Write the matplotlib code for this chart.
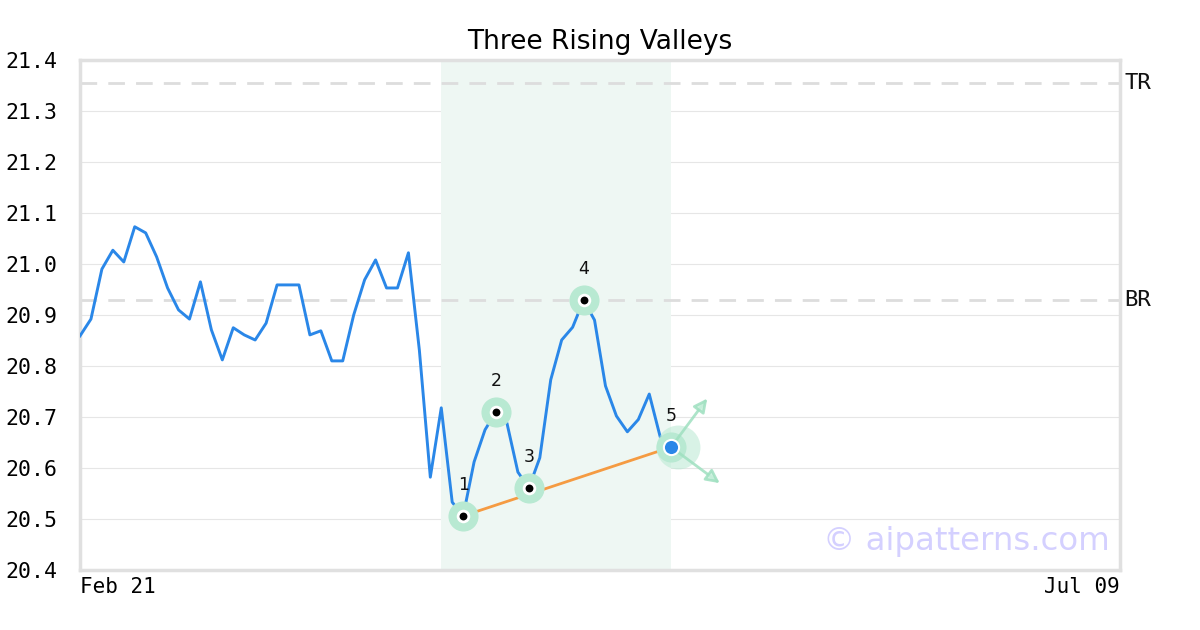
import numpy as np
import matplotlib
matplotlib.use('Agg')
import matplotlib.pyplot as plt
from matplotlib import transforms

# data (trading-day index -> price)
prices = [20.859, 20.892, 20.990, 21.027, 21.004, 21.073, 21.061, 21.014, 20.953, 20.910,
          20.892, 20.965, 20.871, 20.812, 20.875, 20.861, 20.851, 20.884, 20.959, 20.959,
          20.959, 20.861, 20.869, 20.810, 20.810, 20.900, 20.969, 21.008, 20.953, 20.953,
          21.022, 20.831, 20.582, 20.718, 20.533, 20.506, 20.612, 20.675, 20.710, 20.688,
          20.592, 20.561, 20.620, 20.773, 20.851, 20.876, 20.929, 20.890, 20.761, 20.702,
          20.671, 20.695, 20.745, 20.661, 20.641]
pivot_idx = [35, 38, 41, 46, 54]
pivot_labels = ['1', '2', '3', '4', '5']
top_res = 21.355
bot_res = 20.929
shade_start, shade_end = 33, 54
n_days = 95
date_labels = ['Feb 21', 'Jul 09']
y_ticks = [20.4, 20.5, 20.6, 20.7, 20.8, 20.9, 21.0, 21.1, 21.2, 21.3, 21.4]

mono = 'DejaVu Sans Mono'
line_col = '#2a87e8'
pale = '#b8e9d2'

fig = plt.figure(figsize=(12, 6.3), dpi=100)
ax = fig.add_axes([80 / 1200, 60 / 630, 1040 / 1200, 510 / 630])

ax.set_xlim(0, n_days)
ax.set_ylim(20.4, 21.4)

# grid
for y in y_ticks[1:-1]:
    ax.axhline(y, color='#e6e6e6', lw=0.8, zorder=0)

ax.axvspan(shade_start, shade_end, color='#eef7f3', zorder=0.5, lw=0)

for lvl, name in [(top_res, 'TR'), (bot_res, 'BR')]:
    ax.axhline(lvl, color='#dddddd', lw=2, dashes=(6, 4), zorder=1)
    ax.text(1.004, lvl, name, transform=ax.get_yaxis_transform(), ha='left',
            va='center', fontsize=16, family=mono, color='#111111')

x = np.arange(len(prices))
ax.plot(x, prices, color=line_col, lw=2.1, zorder=3, solid_joinstyle='round')

# orange line through valleys 1, 3, 5
v1, v5 = pivot_idx[0], pivot_idx[4]
ax.plot([v1, v5], [prices[v1], prices[v5]], color='#f59b42', lw=2, zorder=2.5)

px = np.array(pivot_idx)
py = np.array([prices[i] for i in pivot_idx])

# faint bigger halo near last pivot
off = transforms.offset_copy(ax.transData, fig=fig, x=5, y=0, units='points')
ax.scatter([px[-1]], [py[-1]], s=1000, color=pale, alpha=0.55, lw=0, zorder=3.5,
           transform=off)

ax.scatter(px, py, s=470, color=pale, lw=0, zorder=4)
ax.scatter(px[:-1], py[:-1], s=95, color='white', lw=0, zorder=5)
ax.scatter(px[:-1], py[:-1], s=32, color='black', lw=0, zorder=6)
ax.scatter([px[-1]], [py[-1]], s=120, color=line_col, edgecolors='white',
           lw=1.5, zorder=6)

for i, lab in zip(px, pivot_labels):
    ax.annotate(lab, (i, prices[i]), xytext=(0, 22.5), textcoords='offset points',
                ha='center', va='center', fontsize=12.5, color='#111111', zorder=7)

# direction arrows from last pivot
for dx, dy in [(26, 35), (35, -26)]:
    tip = transforms.offset_copy(ax.transData, fig=fig, x=dx, y=dy, units='points')
    ax.annotate('', xy=(px[-1], py[-1]), xycoords=tip,
                xytext=(px[-1], py[-1]), textcoords='data',
                arrowprops=dict(arrowstyle='-|>', fc='#c9f0dc', ec='#9fe0c0',
                                lw=2, mutation_scale=20, alpha=0.85,
                                shrinkA=0, shrinkB=0), zorder=5)

# axes styling
for s in ax.spines.values():
    s.set_color('#e0e0e0')
    s.set_linewidth(2.5)
ax.set_yticks(y_ticks)
ax.set_yticklabels([f'{v:.1f}' for v in y_ticks], family=mono, fontsize=15.5)
ax.set_xticks([0, n_days])
ax.set_xticklabels(date_labels, family=mono, fontsize=15)
xl = ax.get_xticklabels()
xl[0].set_ha('left')
xl[1].set_ha('right')
ax.tick_params(axis='y', length=0, pad=16)
ax.tick_params(axis='x', length=0, pad=5)

ax.set_title('Three Rising Valleys', fontsize=19, pad=8)

ax.text(0.99, 0.055, '\u00a9 aipatterns.com', transform=ax.transAxes, ha='right',
        va='center', fontsize=23.3, color='#d4d0ff', zorder=8)

fig.savefig('out.png', dpi=100)
